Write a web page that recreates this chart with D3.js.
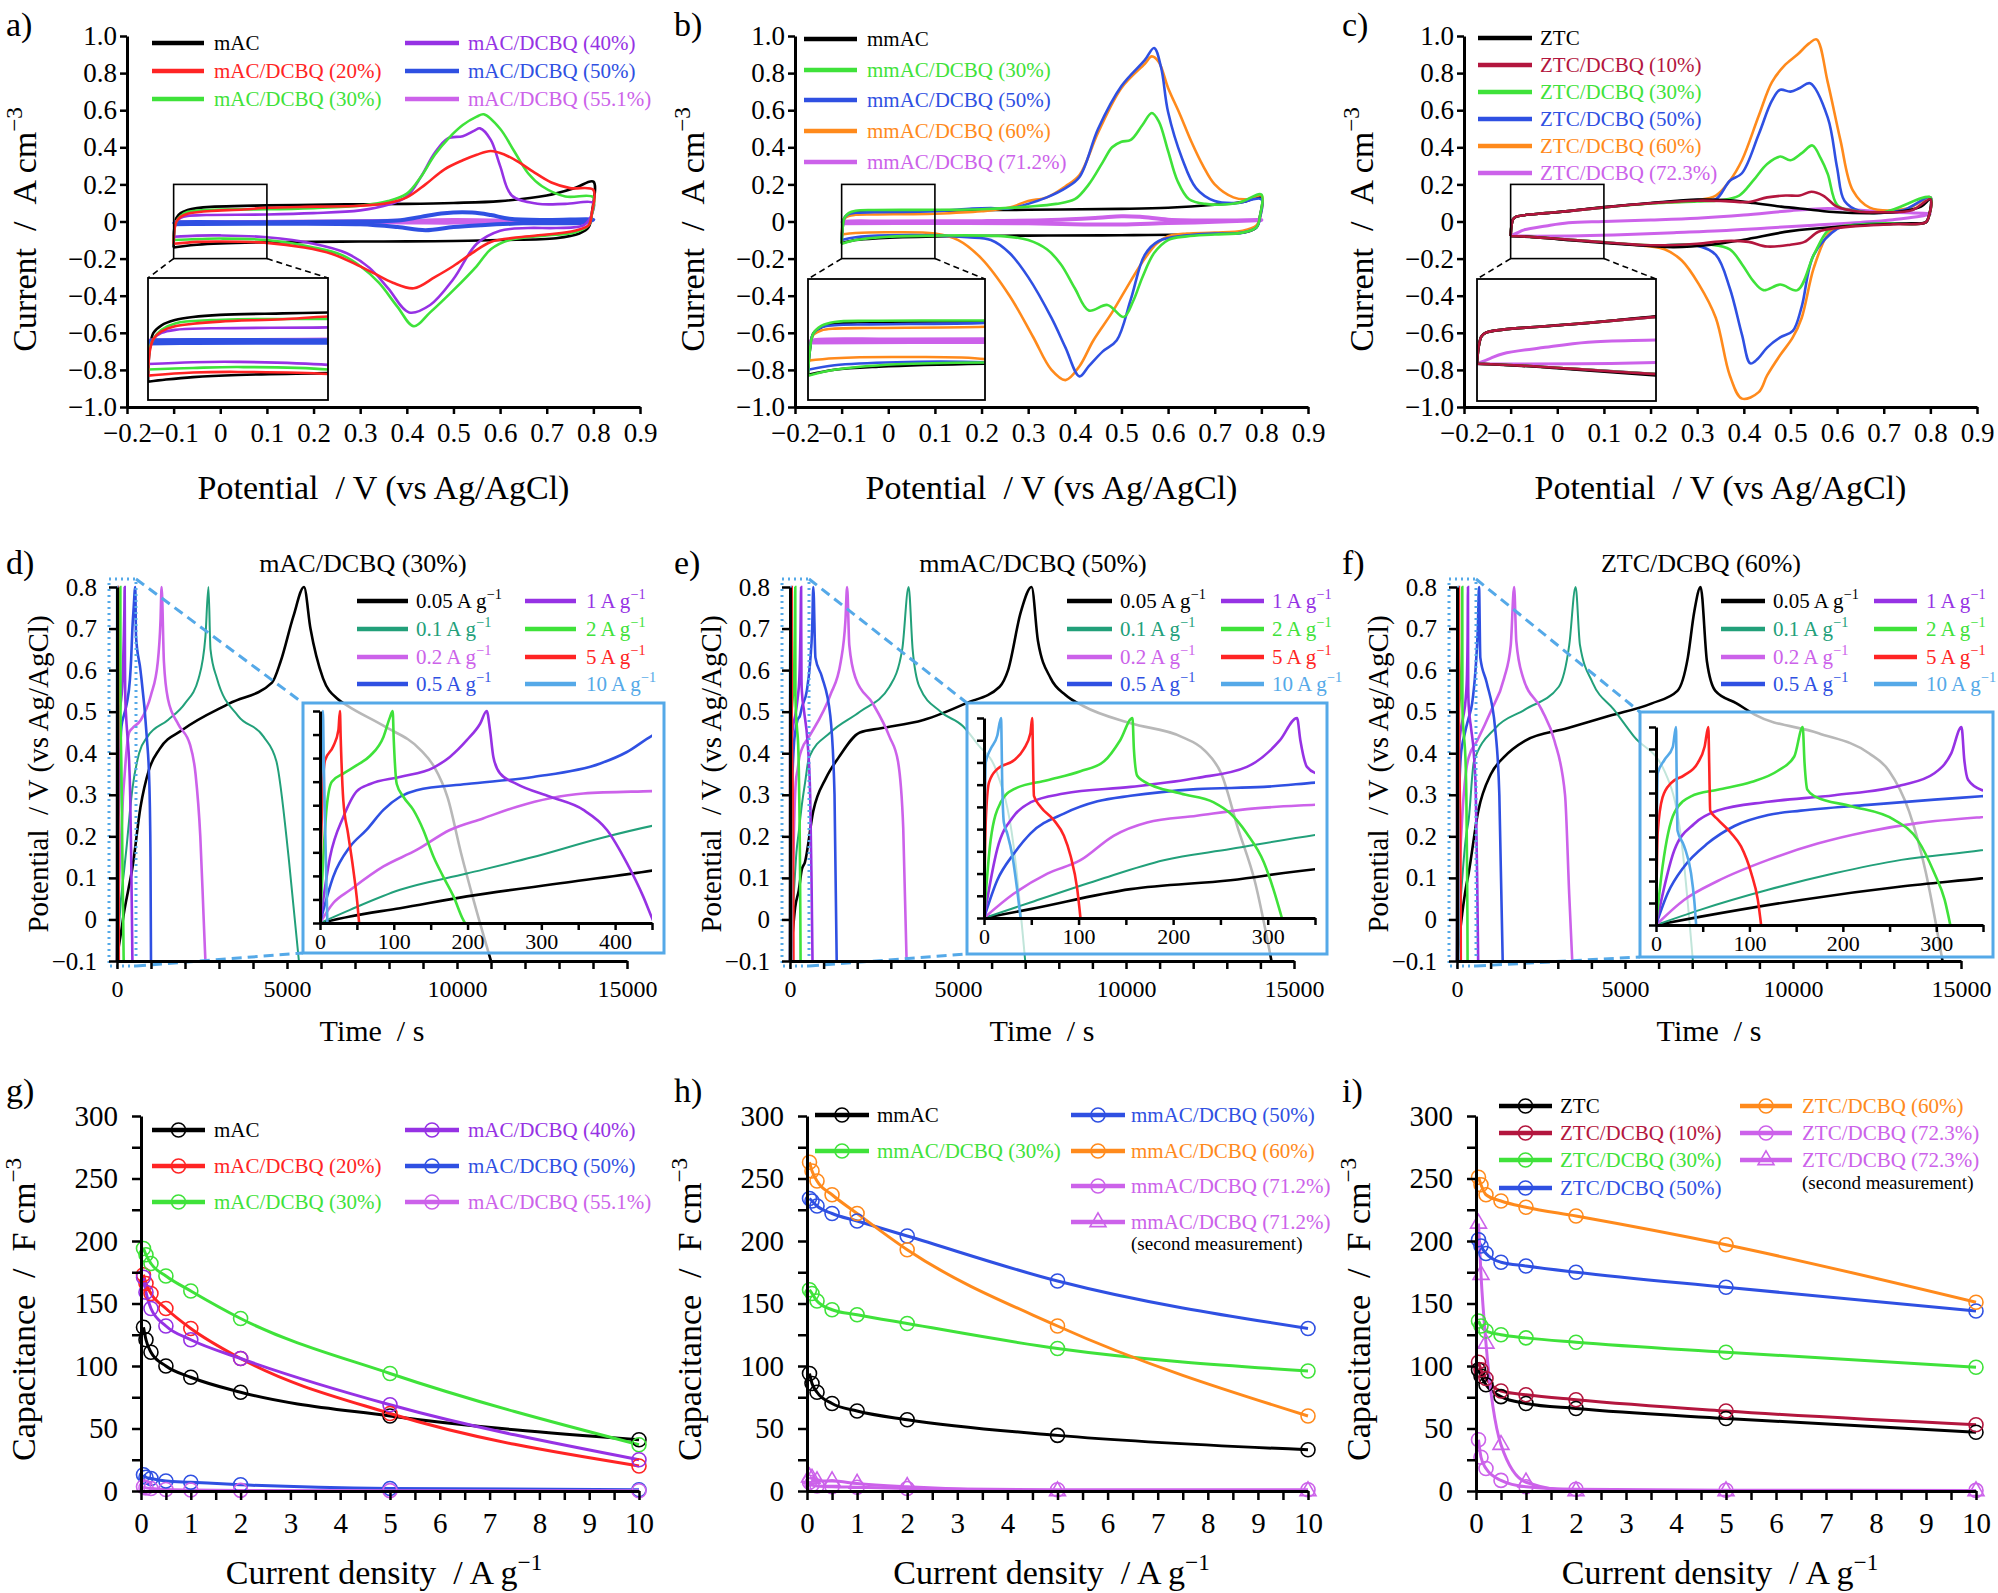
<!DOCTYPE html>
<html>
<head>
<meta charset="utf-8">
<script src="https://cdn.jsdelivr.net/npm/d3@7"></script>
<style>
  body { margin: 0; background: #fff; }
  svg { display: block; }
</style>
</head>
<body>
<svg id="fig" width="1998" height="1593"></svg>
<script>
// ---------- tick labels ----------
var cvXTicks = [-0.2, -0.1, 0, 0.1, 0.2, 0.3, 0.4, 0.5, 0.6, 0.7, 0.8, 0.9];
var cvYTicks = [-1, -0.8, -0.6, -0.4, -0.2, 0, 0.2, 0.4, 0.6, 0.8, 1];
var gcdYTicks = [-0.1, 0, 0.1, 0.2, 0.3, 0.4, 0.5, 0.6, 0.7, 0.8];
var gcdXLabels = [0, 5000, 10000, 15000];
var capYLabels = [0, 50, 100, 150, 200, 250, 300];
var capXLabels = [0, 1, 2, 3, 4, 5, 6, 7, 8, 9, 10];

// ---------- a) CV, mAC series  [V, I] ----------
var a_mAC = [[-0.1,-0.14],[-0.098,-0.03],[-0.094,0.02],[-0.085,0.045],[-0.07,0.062],[-0.05,0.072],[-0.02,0.079],[0.05,0.084],[0.1,0.087],[0.2,0.09],[0.3,0.093],[0.4,0.095],[0.5,0.1],[0.6,0.11],[0.7,0.14],[0.76,0.18],[0.8,0.215],
  [0.797,0.05],[0.79,-0.03],[0.77,-0.065],[0.72,-0.09],[0.6,-0.1],[0.5,-0.105],[0.4,-0.107],[0.3,-0.108],[0.2,-0.11],[0.1,-0.112],[0.0,-0.118],[-0.05,-0.125],[-0.08,-0.133],[-0.1,-0.14]];
var a_20 = [[-0.1,-0.12],[-0.098,-0.04],[-0.094,0.0],[-0.085,0.025],[-0.07,0.042],[-0.05,0.05],[-0.02,0.057],[0.05,0.065],[0.1,0.074],[0.2,0.08],[0.3,0.085],[0.36,0.1],[0.4,0.13],[0.44,0.2],[0.48,0.28],[0.52,0.33],[0.55,0.36],[0.58,0.38],[0.61,0.36],[0.64,0.32],[0.67,0.27],[0.71,0.21],[0.75,0.18],[0.8,0.17],
  [0.797,0.05],[0.79,-0.02],[0.76,-0.05],[0.7,-0.07],[0.64,-0.085],[0.58,-0.11],[0.54,-0.17],[0.5,-0.24],[0.46,-0.3],[0.415,-0.36],[0.37,-0.33],[0.33,-0.28],[0.29,-0.23],[0.24,-0.175],[0.18,-0.14],[0.1,-0.115],[0.0,-0.108],[-0.05,-0.11],[-0.1,-0.12]];
var a_30 = [[-0.1,-0.1],[-0.098,-0.03],[-0.094,0.0],[-0.085,0.03],[-0.069,0.052],[-0.03,0.062],[0.0,0.065],[0.1,0.066],[0.2,0.072],[0.3,0.085],[0.36,0.11],[0.4,0.15],[0.43,0.24],[0.46,0.36],[0.49,0.45],[0.52,0.52],[0.55,0.565],[0.565,0.578],[0.6,0.5],[0.63,0.38],[0.66,0.26],[0.69,0.19],[0.74,0.135],[0.8,0.13],
  [0.797,0.04],[0.79,-0.02],[0.76,-0.06],[0.7,-0.075],[0.62,-0.1],[0.58,-0.15],[0.55,-0.24],[0.5,-0.37],[0.45,-0.49],[0.415,-0.565],[0.38,-0.46],[0.34,-0.33],[0.3,-0.24],[0.26,-0.18],[0.2,-0.14],[0.1,-0.1],[0.0,-0.092],[-0.05,-0.095],[-0.1,-0.1]];
var a_40 = [[-0.1,-0.082],[-0.098,-0.03],[-0.094,0.0],[-0.085,0.02],[-0.07,0.03],[-0.03,0.035],[0.1,0.038],[0.2,0.045],[0.3,0.06],[0.36,0.09],[0.4,0.135],[0.43,0.24],[0.46,0.37],[0.488,0.448],[0.52,0.46],[0.545,0.49],[0.557,0.502],[0.58,0.44],[0.6,0.3],[0.625,0.14],[0.68,0.096],[0.74,0.095],[0.8,0.1],
  [0.797,0.04],[0.78,-0.02],[0.72,-0.035],[0.66,-0.035],[0.6,-0.05],[0.55,-0.12],[0.5,-0.31],[0.45,-0.45],[0.405,-0.49],[0.36,-0.36],[0.32,-0.25],[0.27,-0.17],[0.2,-0.12],[0.1,-0.085],[0.0,-0.075],[-0.05,-0.076],[-0.1,-0.082]];
var a_50 = [[-0.1,-0.015],[-0.097,-0.006],[-0.09,-0.004],[0.1,-0.004],[0.3,0.0],[0.38,0.005],[0.43,0.025],[0.48,0.045],[0.54,0.048],[0.58,0.035],[0.62,0.015],[0.7,0.008],[0.8,0.01],
  [0.78,-0.005],[0.65,-0.01],[0.56,-0.02],[0.5,-0.03],[0.44,-0.047],[0.38,-0.03],[0.3,-0.015],[0.1,-0.012],[-0.05,-0.013],[-0.1,-0.015]];
var a_55 = [[-0.1,-0.005],[0.2,0.0],[0.4,0.004],[0.5,0.008],[0.6,0.006],[0.8,0.008],
  [0.6,-0.002],[0.5,-0.006],[0.4,-0.005],[0.2,-0.003],[-0.1,-0.005]];

// ---------- b) CV, mmAC series ----------
var b_mmAC = [[-0.1,-0.117],[-0.098,-0.04],[-0.094,0.02],[-0.085,0.04],[-0.077,0.049],[-0.044,0.057],[0.1,0.06],[0.3,0.063],[0.5,0.068],[0.6,0.074],[0.7,0.09],[0.76,0.105],[0.8,0.13],
  [0.797,0.03],[0.79,-0.03],[0.77,-0.055],[0.7,-0.066],[0.5,-0.074],[0.3,-0.076],[0.1,-0.08],[-0.02,-0.09],[-0.07,-0.1],[-0.1,-0.117]];
var b_30 = [[-0.1,-0.12],[-0.098,-0.04],[-0.094,0.02],[-0.085,0.045],[-0.07,0.058],[-0.03,0.062],[0.1,0.063],[0.2,0.066],[0.3,0.08],[0.36,0.095],[0.4,0.12],[0.43,0.2],[0.46,0.32],[0.48,0.4],[0.5,0.43],[0.52,0.44],[0.545,0.52],[0.565,0.585],[0.58,0.54],[0.6,0.38],[0.62,0.22],[0.645,0.12],[0.68,0.095],[0.75,0.1],[0.8,0.145],
  [0.797,0.03],[0.79,-0.03],[0.76,-0.06],[0.7,-0.07],[0.64,-0.08],[0.6,-0.1],[0.57,-0.17],[0.545,-0.3],[0.525,-0.43],[0.505,-0.515],[0.47,-0.45],[0.43,-0.48],[0.4,-0.36],[0.37,-0.23],[0.34,-0.15],[0.3,-0.1],[0.25,-0.08],[0.1,-0.076],[0.0,-0.082],[-0.07,-0.1],[-0.1,-0.12]];
var b_50 = [[-0.1,-0.1],[-0.098,-0.03],[-0.094,0.02],[-0.085,0.04],[-0.07,0.047],[-0.03,0.05],[0.1,0.055],[0.18,0.07],[0.22,0.072],[0.26,0.07],[0.3,0.095],[0.34,0.13],[0.38,0.18],[0.41,0.24],[0.45,0.5],[0.5,0.73],[0.55,0.87],[0.57,0.935],[0.585,0.83],[0.6,0.59],[0.63,0.34],[0.66,0.18],[0.7,0.11],[0.75,0.1],[0.8,0.12],
  [0.797,0.02],[0.79,-0.03],[0.76,-0.06],[0.7,-0.065],[0.64,-0.075],[0.58,-0.105],[0.55,-0.18],[0.52,-0.42],[0.49,-0.64],[0.46,-0.7],[0.43,-0.78],[0.41,-0.835],[0.38,-0.68],[0.35,-0.52],[0.3,-0.3],[0.26,-0.17],[0.22,-0.1],[0.17,-0.085],[0.1,-0.075],[0.0,-0.075],[-0.07,-0.085],[-0.1,-0.1]];
var b_60 = [[-0.1,-0.07],[-0.098,-0.02],[-0.094,0.015],[-0.085,0.03],[-0.07,0.036],[-0.03,0.038],[0.1,0.042],[0.2,0.055],[0.26,0.075],[0.3,0.11],[0.34,0.13],[0.38,0.19],[0.41,0.25],[0.45,0.48],[0.5,0.72],[0.55,0.85],[0.565,0.89],[0.58,0.86],[0.6,0.72],[0.625,0.58],[0.65,0.43],[0.675,0.3],[0.7,0.2],[0.74,0.13],[0.77,0.12],[0.8,0.14],
  [0.797,0.02],[0.79,-0.02],[0.76,-0.05],[0.7,-0.06],[0.64,-0.065],[0.6,-0.08],[0.575,-0.12],[0.55,-0.2],[0.52,-0.32],[0.48,-0.49],[0.44,-0.64],[0.41,-0.78],[0.38,-0.855],[0.35,-0.8],[0.31,-0.62],[0.26,-0.4],[0.2,-0.2],[0.15,-0.1],[0.1,-0.065],[0.0,-0.058],[-0.07,-0.062],[-0.1,-0.07]];
var b_71 = [[-0.1,-0.01],[-0.095,-0.003],[0.0,0.0],[0.2,0.002],[0.35,0.008],[0.45,0.02],[0.5,0.028],[0.54,0.025],[0.6,0.01],[0.7,0.005],[0.8,0.008],
  [0.7,-0.002],[0.6,-0.008],[0.5,-0.016],[0.42,-0.016],[0.3,-0.01],[0.1,-0.008],[-0.1,-0.01]];

// ---------- c) CV, ZTC series ----------
var c_ZTC = [[-0.1,-0.078],[-0.098,-0.02],[-0.095,0.012],[-0.09,0.024],[-0.071,0.034],[-0.024,0.045],[0.024,0.056],[0.1,0.078],[0.2,0.1],[0.3,0.118],[0.36,0.115],[0.42,0.1],[0.48,0.08],[0.54,0.065],[0.6,0.05],[0.68,0.045],[0.74,0.055],[0.78,0.08],[0.8,0.12],
  [0.797,0.03],[0.79,-0.005],[0.76,-0.01],[0.7,-0.015],[0.6,-0.028],[0.5,-0.052],[0.4,-0.098],[0.33,-0.125],[0.25,-0.138],[0.2,-0.132],[0.1,-0.116],[0.0,-0.095],[-0.05,-0.085],[-0.1,-0.078]];
var c_10 = [[-0.1,-0.078],[-0.098,-0.02],[-0.095,0.012],[-0.09,0.024],[-0.071,0.034],[-0.024,0.045],[0.024,0.056],[0.1,0.076],[0.2,0.098],[0.3,0.112],[0.36,0.11],[0.41,0.105],[0.45,0.13],[0.49,0.14],[0.52,0.14],[0.545,0.16],[0.57,0.14],[0.6,0.08],[0.64,0.055],[0.7,0.05],[0.76,0.06],[0.8,0.12],
  [0.797,0.03],[0.79,-0.005],[0.72,-0.015],[0.64,-0.025],[0.6,-0.035],[0.56,-0.055],[0.53,-0.11],[0.5,-0.125],[0.45,-0.135],[0.41,-0.11],[0.36,-0.105],[0.3,-0.12],[0.2,-0.128],[0.1,-0.112],[0.0,-0.093],[-0.05,-0.084],[-0.1,-0.078]];
var c_30 = [[-0.1,-0.078],[-0.098,-0.02],[-0.095,0.012],[-0.09,0.024],[-0.071,0.034],[-0.024,0.045],[0.024,0.056],[0.1,0.076],[0.2,0.097],[0.3,0.108],[0.35,0.115],[0.39,0.14],[0.42,0.22],[0.45,0.31],[0.478,0.35],[0.5,0.33],[0.525,0.37],[0.547,0.41],[0.565,0.34],[0.58,0.256],[0.6,0.09],[0.63,0.06],[0.7,0.05],[0.8,0.13],
  [0.797,0.03],[0.79,-0.005],[0.7,-0.01],[0.63,-0.02],[0.6,-0.03],[0.58,-0.05],[0.55,-0.18],[0.515,-0.37],[0.478,-0.34],[0.442,-0.37],[0.42,-0.32],[0.396,-0.23],[0.37,-0.15],[0.33,-0.125],[0.2,-0.128],[0.1,-0.112],[0.0,-0.093],[-0.05,-0.084],[-0.1,-0.078]];
var c_50 = [[-0.1,-0.078],[-0.098,-0.02],[-0.095,0.012],[-0.09,0.024],[-0.071,0.034],[-0.024,0.045],[0.024,0.056],[0.1,0.076],[0.2,0.098],[0.3,0.115],[0.34,0.12],[0.37,0.22],[0.396,0.26],[0.432,0.47],[0.46,0.65],[0.478,0.71],[0.5,0.7],[0.52,0.72],[0.542,0.745],[0.58,0.56],[0.6,0.29],[0.616,0.11],[0.65,0.055],[0.74,0.06],[0.8,0.13],
  [0.797,0.03],[0.79,-0.005],[0.7,-0.01],[0.63,-0.02],[0.6,-0.04],[0.55,-0.18],[0.524,-0.46],[0.505,-0.59],[0.478,-0.625],[0.45,-0.68],[0.43,-0.74],[0.414,-0.765],[0.396,-0.61],[0.37,-0.36],[0.34,-0.18],[0.3,-0.13],[0.2,-0.13],[0.1,-0.112],[0.0,-0.093],[-0.05,-0.084],[-0.1,-0.078]];
var c_60 = [[-0.1,-0.078],[-0.098,-0.02],[-0.095,0.012],[-0.09,0.024],[-0.071,0.034],[-0.024,0.045],[0.024,0.056],[0.1,0.076],[0.2,0.098],[0.3,0.115],[0.34,0.14],[0.37,0.22],[0.396,0.33],[0.432,0.57],[0.46,0.75],[0.487,0.84],[0.515,0.9],[0.54,0.96],[0.556,0.982],[0.58,0.75],[0.607,0.44],[0.634,0.166],[0.67,0.075],[0.75,0.07],[0.8,0.13],
  [0.797,0.03],[0.79,-0.005],[0.7,-0.01],[0.63,-0.02],[0.6,-0.035],[0.58,-0.07],[0.55,-0.25],[0.524,-0.52],[0.505,-0.625],[0.478,-0.72],[0.45,-0.83],[0.432,-0.92],[0.396,-0.955],[0.37,-0.83],[0.34,-0.52],[0.304,-0.34],[0.267,-0.21],[0.23,-0.15],[0.2,-0.135],[0.1,-0.112],[0.0,-0.093],[-0.05,-0.084],[-0.1,-0.078]];
var c_72 = [[-0.1,-0.078],[-0.085,-0.06],[-0.071,-0.045],[-0.024,-0.024],[0.024,-0.007],[0.1,0.0],[0.2,0.008],[0.3,0.018],[0.4,0.035],[0.5,0.058],[0.58,0.07],[0.65,0.06],[0.72,0.05],[0.8,0.04],
  [0.72,0.01],[0.65,-0.005],[0.55,-0.02],[0.45,-0.035],[0.35,-0.05],[0.25,-0.06],[0.15,-0.07],[0.05,-0.077],[-0.05,-0.079],[-0.1,-0.078]];

// ---------- d) GCD mAC/DCBQ (30%)  [t (s), V] ----------
var d_005 = [[0,-0.1],[40.7,-0.072],[108.5,-0.037],[199,0.013],[334,0.072],[451,0.123],[690,0.27],[940,0.36],[1250,0.41],[1940,0.457],[3310,0.52],[4560,0.57],[4810,0.62],[5190,0.73],[5500,0.8],[5690,0.7],[6060,0.58],[6500,0.53],[6785,0.514],[7860,0.465],[8940,0.407],[9330,0.367],[9725,0.293],[10118,0.16],[10510,0.04],[11000,-0.1]];
var d_01 = [[0,-0.1],[40.7,-0.044],[108.5,0.041],[199,0.11],[289,0.18],[380,0.26],[451,0.313],[650,0.4],[900,0.44],[1500,0.48],[2000,0.52],[2400,0.58],[2600,0.68],[2690,0.8],[2750,0.65],[2940,0.58],[3560,0.49],[4310,0.44],[4690,0.38],[5060,0.14],[5350,-0.1]];
var d_02 = [[0,-0.1],[18,-0.015],[40.7,0.04],[86,0.14],[131,0.21],[176,0.295],[221,0.344],[267,0.394],[312,0.43],[357,0.45],[451,0.46],[700,0.48],[1000,0.54],[1200,0.62],[1280,0.72],[1312,0.8],[1380,0.62],[1500,0.53],[1800,0.47],[2150,0.42],[2310,0.35],[2450,0.2],[2550,0.0],[2600,-0.1]];
var d_05 = [[0,-0.1],[18,0.097],[40.7,0.224],[63,0.295],[86,0.38],[108.5,0.436],[131,0.464],[199,0.49],[289,0.52],[380,0.577],[416,0.626],[451,0.697],[490,0.75],[537,0.8],[560,0.68],[690,0.6],[875,0.44],[950,0.33],[985,0.15],[1000,-0.1]];
var d_1 = [[0,-0.1],[13.6,0.18],[31.6,0.35],[50,0.46],[68,0.49],[108,0.52],[154,0.56],[176,0.605],[199,0.676],[217,0.746],[226,0.8],[230.5,0.718],[235,0.605],[244,0.535],[267,0.49],[312,0.436],[357,0.38],[389,0.295],[416,0.154],[438,0.013],[451,-0.086],[453,-0.1]];
var d_2 = [[0,-0.1],[4.5,0.18],[9,0.39],[16,0.5],[32,0.535],[50,0.57],[68,0.61],[86,0.69],[95,0.775],[98.5,0.8],[100,0.676],[104,0.49],[113,0.436],[126.5,0.38],[140,0.295],[154,0.18],[167,0.097],[181,0.013],[194,-0.086],[196.6,-0.1]];
var d_5 = [[0,-0.1],[1,0.15],[3.6,0.46],[6.8,0.59],[18,0.65],[25,0.72],[27,0.8],[28,0.69],[31.6,0.42],[38,0.28],[45,0.13],[50.6,-0.015],[53,-0.1]];
var d_10 = [[0,-0.1],[1,0.4],[2.5,0.65],[4,0.8],[5,0.6],[7,0.3],[10,-0.1]];

// ---------- e) GCD mmAC/DCBQ (50%) ----------
var e_005 = [[0,-0.1],[49,-0.06],[155,0.03],[260.6,0.07],[352,0.12],[441,0.137],[690,0.26],[1070,0.34],[1450,0.39],[2080,0.45],[2710,0.46],[3970,0.48],[5230,0.52],[6240,0.56],[6490,0.6],[6870,0.74],[7190,0.8],[7380,0.67],[7760,0.58],[8200,0.54],[8740,0.513],[10140,0.472],[11640,0.44],[12335,0.407],[12840,0.35],[13330,0.22],[13840,0.09],[14330,-0.1]];
var e_01 = [[0,-0.1],[49,-0.03],[120,0.07],[190,0.16],[260.6,0.21],[352,0.275],[450,0.33],[567,0.39],[1200,0.45],[2080,0.5],[2960,0.56],[3340,0.65],[3530,0.8],[3650,0.65],[3850,0.56],[4480,0.5],[5150,0.465],[5600,0.42],[6140,0.358],[6650,0.18],[7000,-0.1]];
var e_02 = [[0,-0.1],[31.7,0.01],[67,0.1],[102,0.16],[137,0.27],[172.5,0.33],[225,0.36],[278,0.39],[352,0.41],[570,0.44],[1200,0.54],[1510,0.62],[1650,0.72],[1700,0.8],[1765,0.66],[1955,0.58],[2460,0.52],[2960,0.44],[3215,0.38],[3370,0.22],[3470,-0.1]];
var e_05 = [[0,-0.1],[14,0.07],[31.7,0.19],[49,0.28],[84.5,0.37],[120,0.425],[155,0.45],[225,0.48],[296,0.49],[352,0.51],[500,0.55],[600,0.62],[660,0.7],[694,0.8],[757,0.63],[946,0.585],[1200,0.49],[1325,0.3],[1390,-0.1]];
var e_1 = [[0,-0.1],[14,0.21],[31.7,0.36],[49,0.42],[84.5,0.46],[155,0.49],[225,0.53],[278,0.58],[313,0.7],[331,0.8],[334.5,0.7],[341.5,0.58],[352,0.55],[420,0.5],[520,0.43],[600,0.3],[640,0.1],[670,-0.1]];
var e_2 = [[0,-0.1],[7,0.25],[17.6,0.42],[31.7,0.48],[67,0.52],[102,0.56],[127,0.605],[144,0.7],[157,0.8],[158.5,0.66],[162,0.54],[169,0.515],[208,0.46],[243,0.42],[260.6,0.37],[278,0.28],[296,0.15],[306,0.03],[315,-0.1]];
var e_5 = [[0,-0.1],[1.8,0.33],[5.3,0.51],[14,0.57],[31.7,0.61],[42,0.66],[49,0.73],[51,0.8],[51.8,0.63],[52.8,0.45],[60,0.4],[74,0.34],[84.5,0.27],[91.5,0.18],[98.6,0.03],[102,-0.1]];
var e_10 = [[0,-0.1],[1.8,0.6],[7,0.66],[14,0.72],[18,0.8],[19.4,0.48],[21,0.33],[24.6,0.28],[30,0.18],[35,0.03],[38.7,-0.1]];

// ---------- f) GCD ZTC/DCBQ (60%) ----------
var f_005 = [[0,-0.1],[48,-0.062],[155,0.014],[262.5,0.075],[348,0.112],[630,0.26],[1010,0.35],[1390,0.39],[2020,0.43],[3280,0.46],[4540,0.49],[5800,0.52],[6560,0.55],[6870,0.63],[7060,0.74],[7250,0.8],[7440,0.62],[7690,0.55],[8320,0.52],[8860,0.493],[10760,0.448],[12260,0.4],[12855,0.358],[13455,0.26],[13950,0.114],[14250,-0.009],[14450,-0.1]];
var f_01 = [[0,-0.1],[48,-0.03],[120,0.06],[191,0.135],[262.5,0.196],[348,0.24],[504,0.38],[1135,0.46],[2020,0.505],[3030,0.56],[3340,0.66],[3530,0.8],[3660,0.66],[4035,0.57],[4670,0.505],[5270,0.44],[6170,0.358],[6670,0.196],[7020,-0.1]];
var f_02 = [[0,-0.1],[30,0.014],[66,0.1],[120,0.196],[173,0.27],[227,0.325],[280,0.363],[348,0.39],[600,0.43],[1000,0.5],[1400,0.58],[1600,0.66],[1700,0.8],[1765,0.67],[1955,0.585],[2520,0.505],[2900,0.43],[3215,0.3],[3340,0.06],[3430,-0.1]];
var f_05 = [[0,-0.1],[12.5,0.044],[30,0.165],[55,0.27],[84,0.35],[120,0.4],[155,0.42],[227,0.446],[298,0.47],[348,0.485],[450,0.52],[550,0.6],[620,0.7],[656,0.8],[694,0.63],[883,0.57],[1135,0.46],[1260,0.3],[1360,-0.1]];
var f_1 = [[0,-0.1],[19.6,0.24],[41,0.36],[66,0.42],[120,0.46],[191,0.49],[262.5,0.535],[298,0.59],[316,0.68],[327,0.8],[330,0.65],[334,0.56],[348,0.515],[420,0.46],[500,0.4],[560,0.3],[600,0.1],[630,-0.1]];
var f_2 = [[0,-0.1],[7,0.165],[19.6,0.41],[37.5,0.485],[66,0.515],[102,0.55],[130,0.6],[148,0.666],[157,0.8],[159,0.636],[162,0.515],[170,0.485],[209,0.44],[255,0.378],[280,0.287],[298,0.135],[309,0.014],[315,-0.1]];
var f_5 = [[0,-0.1],[1.8,0.32],[7,0.48],[16,0.545],[30,0.58],[44.6,0.636],[52,0.71],[56,0.8],[57,0.62],[58,0.42],[66,0.38],[80,0.32],[91,0.257],[102,0.135],[109,0.014],[112.5,-0.1]];
var f_10 = [[0,-0.1],[1.8,0.59],[9,0.65],[18,0.71],[21.4,0.8],[22,0.62],[23,0.33],[30,0.26],[37.5,0.135],[41,0.01],[43,-0.1]];

// ---------- g-i) capacitance vs current density ----------
var currentDensity = [0.05, 0.1, 0.2, 0.5, 1, 2, 5, 10];
var g_mAC = [131, 121, 111, 100, 91, 79, 60, 41];
var g_20  = [173, 166, 158, 146, 130, 106, 62, 20];
var g_30  = [194, 189, 182, 172, 160, 138, 94, 37];
var g_40  = [171, 159, 146, 132, 121, 106, 69, 25];
var g_50  = [13, 11, 10, 8, 7, 5, 2, 1];
var g_55  = [3.4, 2.5, 2, 1.2, 0.8, 0.5, 0.3, 0.2];
var h_mmAC = [94, 86, 79, 70, 64, 57, 44.5, 33];
var h_30  = [161, 158, 152, 145, 141, 134, 114, 96];
var h_50  = [234, 232, 228, 222, 216, 204, 168, 130];
var h_60  = [263, 256, 248, 237, 222, 193, 132, 60];
var h_71  = [7, 5, 4, 3.4, 3, 2, 1, 1];
var h_71b = [11, 10, 8, 8, 6, 3.4, 0, 0];
var i_ZTC = [97, 92, 85, 75.5, 70, 66, 58, 47];
var i_10  = [103, 97, 90, 80, 77, 73, 64, 53];
var i_30  = [136, 132, 128, 125, 122.5, 119, 111, 99];
var i_50  = [201, 196, 190, 183, 180, 175, 163, 144];
var i_60  = [251, 245, 237, 232, 227, 220, 197, 151];
var i_72  = [41, 27, 18, 8.5, 3.4, 1.4, 0.6, 0.5];
var i_72b = [214, 173, 118, 37, 7, 0, 0, 0];

var rateLabels = ['0.05', '0.1', '0.2', '0.5', '1', '2', '5', '10'];

// ---------- colours ----------
var BLACK = '#000000', RED = '#ff2424', LIME = '#3fe23a', VIOLET = '#9632e4', BLUE = '#2f50e2',
    ORCHID = '#cc62ea', ORANGE = '#ff8a1c', CRIMSON = '#b3163e', TEAL = '#22a07a', SKY = '#55a9e8';
var rateColors = [BLACK, TEAL, ORCHID, BLUE, VIOLET, LIME, RED, SKY];

var FONT = '"Liberation Serif","Times New Roman",serif';
var svg = d3.select('#fig');

function txt(g, x, y, main, sup, size, color, anchor) {
  var t = g.append('text').attr('x', x).attr('y', y)
    .attr('font-size', size).attr('font-family', FONT)
    .attr('fill', color || '#000').attr('text-anchor', anchor || 'start');
  t.append('tspan').text(main);
  if (sup) t.append('tspan').attr('font-size', size * 0.68).attr('dy', -size * 0.42).text(sup);
  return t;
}

function vtitle(g, x, y, main, sup, size) {
  var t = g.append('text').attr('transform', 'translate(' + x + ',' + y + ') rotate(-90)')
    .attr('font-size', size).attr('font-family', FONT).attr('text-anchor', 'middle').attr('fill', '#000');
  t.append('tspan').text(main);
  if (sup) t.append('tspan').attr('font-size', size * 0.68).attr('dy', -size * 0.42).text(sup);
}

function styleAxis(ax, size) {
  ax.attr('font-family', FONT).attr('font-size', size);
  ax.select('.domain').attr('stroke-width', 3).attr('stroke', '#000');
  ax.selectAll('.tick line').attr('stroke-width', 2.5).attr('stroke', '#000');
  ax.selectAll('.tick text').attr('fill', '#000');
}

function legendItem(g, it) {
  g.append('line').attr('x1', it.x1).attr('x2', it.x2).attr('y1', it.y).attr('y2', it.y)
    .attr('stroke', it.color).attr('stroke-width', 4.5);
  var cx = (it.x1 + it.x2) / 2;
  if (it.marker === 'circle') {
    g.append('circle').attr('cx', cx).attr('cy', it.y).attr('r', 7)
      .attr('fill', 'none').attr('stroke', it.color).attr('stroke-width', 1.6);
  } else if (it.marker === 'tri') {
    g.append('path').attr('d', d3.symbol(d3.symbolTriangle, 110)())
      .attr('transform', 'translate(' + cx + ',' + it.y + ')')
      .attr('fill', 'none').attr('stroke', it.color).attr('stroke-width', 1.6);
  }
  txt(g, it.tx, it.y + 7, it.label, it.sup, 21, it.color);
}

function fmt1(d) { return d === 0 ? '0' : d3.format('.1f')(d); }

// ================= row 1 : cyclic voltammetry =================
function cvPanel(p) {
  var g = svg.append('g');
  var x = d3.scaleLinear().domain([-0.2, 0.9]).range([p.x0, p.x1]);
  var y = d3.scaleLinear().domain([-1, 1]).range([p.yb, p.yt]);
  var line = d3.line().x(function (d) { return x(d[0]); }).y(function (d) { return y(d[1]); })
    .curve(d3.curveCatmullRom.alpha(0.5));
  p.series.forEach(function (s) {
    g.append('path').attr('d', line(s.data)).attr('fill', 'none')
      .attr('stroke', s.color).attr('stroke-width', s.w || 2.6);
  });

  // zoom box + inset
  g.append('rect').attr('x', x(-0.1)).attr('y', y(0.2))
    .attr('width', x(0.1) - x(-0.1)).attr('height', y(-0.2) - y(0.2))
    .attr('fill', 'none').attr('stroke', '#000').attr('stroke-width', 1.6);
  var b = p.inset;
  g.append('line').attr('x1', x(-0.1)).attr('y1', y(-0.2)).attr('x2', b.x0).attr('y2', b.y0)
    .attr('stroke', '#000').attr('stroke-width', 1.6).attr('stroke-dasharray', '6,4');
  g.append('line').attr('x1', x(0.1)).attr('y1', y(-0.2)).attr('x2', b.x1).attr('y2', b.y0)
    .attr('stroke', '#000').attr('stroke-width', 1.6).attr('stroke-dasharray', '6,4');
  g.append('rect').attr('x', b.x0).attr('y', b.y0).attr('width', b.x1 - b.x0).attr('height', b.y1 - b.y0)
    .attr('fill', '#fff');
  var ix = d3.scaleLinear().domain([-0.1, 0.1]).range([b.x0, b.x1]);
  var iy = d3.scaleLinear().domain([-0.2, 0.2]).range([b.y1, b.y0]);
  var iline = d3.line().x(function (d) { return ix(d[0]); }).y(function (d) { return iy(d[1]); })
    .curve(d3.curveCatmullRom.alpha(0.5));
  g.append('clipPath').attr('id', p.id + 'clip').append('rect')
    .attr('x', b.x0).attr('y', b.y0).attr('width', b.x1 - b.x0).attr('height', b.y1 - b.y0);
  var ig = g.append('g').attr('clip-path', 'url(#' + p.id + 'clip)');
  p.series.forEach(function (s) {
    ig.append('path').attr('d', iline(s.data)).attr('fill', 'none')
      .attr('stroke', s.color).attr('stroke-width', s.w || 2.6);
  });
  g.append('rect').attr('x', b.x0).attr('y', b.y0).attr('width', b.x1 - b.x0).attr('height', b.y1 - b.y0)
    .attr('fill', 'none').attr('stroke', '#000').attr('stroke-width', 1.8);

  // axes
  var ay = g.append('g').attr('transform', 'translate(' + p.x0 + ',0)')
    .call(d3.axisLeft(y).tickValues(cvYTicks).tickFormat(fmt1).tickSize(7).tickSizeOuter(0).tickPadding(3));
  styleAxis(ay, 27);
  var ax = g.append('g').attr('transform', 'translate(0,' + p.yb + ')')
    .call(d3.axisBottom(x).tickValues(cvXTicks).tickFormat(fmt1).tickSize(7).tickSizeOuter(0).tickPadding(9));
  styleAxis(ax, 27);

  txt(g, (p.x0 + p.x1) / 2, 499, 'Potential \u00a0/ V (vs Ag/AgCl)', null, 34, '#000', 'middle');
  vtitle(g, p.x0 - 91, (p.yt + p.yb) / 2 + 8, 'Current \u00a0/ \u00a0A cm', '\u22123', 34);
  txt(g, p.lx, 36, p.letter, null, 34, '#000');
  p.legend.forEach(function (it) { legendItem(g, it); });
}

cvPanel({
  id: 'a', letter: 'a)', lx: 6, x0: 127, x1: 640, yt: 36, yb: 407,
  inset: { x0: 148, x1: 328, y0: 278, y1: 400 },
  series: [
    { data: a_mAC, color: BLACK }, { data: a_55, color: ORCHID, w: 4 }, { data: a_50, color: BLUE, w: 4 },
    { data: a_40, color: VIOLET }, { data: a_30, color: LIME }, { data: a_20, color: RED }
  ],
  legend: [
    { x1: 152, x2: 204, tx: 214, y: 43, color: BLACK, label: 'mAC' },
    { x1: 152, x2: 204, tx: 214, y: 71, color: RED, label: 'mAC/DCBQ (20%)' },
    { x1: 152, x2: 204, tx: 214, y: 99, color: LIME, label: 'mAC/DCBQ (30%)' },
    { x1: 405, x2: 459, tx: 468, y: 43, color: VIOLET, label: 'mAC/DCBQ (40%)' },
    { x1: 405, x2: 459, tx: 468, y: 71, color: BLUE, label: 'mAC/DCBQ (50%)' },
    { x1: 405, x2: 459, tx: 468, y: 99, color: ORCHID, label: 'mAC/DCBQ (55.1%)' }
  ]
});

cvPanel({
  id: 'b', letter: 'b)', lx: 674, x0: 795, x1: 1308, yt: 36, yb: 407,
  inset: { x0: 808, x1: 985, y0: 279, y1: 400 },
  series: [
    { data: b_mmAC, color: BLACK }, { data: b_71, color: ORCHID, w: 4 }, { data: b_60, color: ORANGE },
    { data: b_50, color: BLUE }, { data: b_30, color: LIME }
  ],
  legend: [
    { x1: 804, x2: 857, tx: 867, y: 39, color: BLACK, label: 'mmAC' },
    { x1: 804, x2: 857, tx: 867, y: 70, color: LIME, label: 'mmAC/DCBQ (30%)' },
    { x1: 804, x2: 857, tx: 867, y: 100, color: BLUE, label: 'mmAC/DCBQ (50%)' },
    { x1: 804, x2: 857, tx: 867, y: 131, color: ORANGE, label: 'mmAC/DCBQ (60%)' },
    { x1: 804, x2: 857, tx: 867, y: 162, color: ORCHID, label: 'mmAC/DCBQ (71.2%)' }
  ]
});

cvPanel({
  id: 'c', letter: 'c)', lx: 1342, x0: 1464, x1: 1977, yt: 36, yb: 407,
  inset: { x0: 1477, x1: 1656, y0: 279, y1: 401 },
  series: [
    { data: c_72, color: ORCHID, w: 3 }, { data: c_60, color: ORANGE }, { data: c_50, color: BLUE },
    { data: c_30, color: LIME }, { data: c_ZTC, color: BLACK }, { data: c_10, color: CRIMSON }
  ],
  legend: [
    { x1: 1478, x2: 1532, tx: 1540, y: 38, color: BLACK, label: 'ZTC' },
    { x1: 1478, x2: 1532, tx: 1540, y: 65, color: CRIMSON, label: 'ZTC/DCBQ (10%)' },
    { x1: 1478, x2: 1532, tx: 1540, y: 92, color: LIME, label: 'ZTC/DCBQ (30%)' },
    { x1: 1478, x2: 1532, tx: 1540, y: 119, color: BLUE, label: 'ZTC/DCBQ (50%)' },
    { x1: 1478, x2: 1532, tx: 1540, y: 146, color: ORANGE, label: 'ZTC/DCBQ (60%)' },
    { x1: 1478, x2: 1532, tx: 1540, y: 173, color: ORCHID, label: 'ZTC/DCBQ (72.3%)' }
  ]
});

// ================= row 2 : galvanostatic charge/discharge =================
function gcdPanel(p) {
  var g = svg.append('g');
  var x = d3.scaleLinear().domain([0, 15000]).range([p.x0, p.x1]);
  var y = d3.scaleLinear().domain([-0.1, 0.8]).range([p.yb, p.yt]);
  var line = d3.line().x(function (d) { return x(d[0]); }).y(function (d) { return y(d[1]); })
    .curve(d3.curveMonotoneX);
  p.series.forEach(function (s, k) {
    g.append('path').attr('d', line(s)).attr('fill', 'none')
      .attr('stroke', rateColors[k]).attr('stroke-width', k === 1 ? 2 : 2.6);
  });

  // dotted zoom box and connectors
  var bx0 = p.x0 - 8, bx1 = p.x0 + 19, by0 = p.yt - 8, by1 = p.yb + 5;
  g.append('rect').attr('x', bx0).attr('y', by0).attr('width', bx1 - bx0).attr('height', by1 - by0)
    .attr('fill', 'none').attr('stroke', SKY).attr('stroke-width', 3).attr('stroke-dasharray', '2,4');
  var b = p.inset;
  g.append('line').attr('x1', bx1).attr('y1', by0).attr('x2', b.x0).attr('y2', b.y0)
    .attr('stroke', SKY).attr('stroke-width', 3).attr('stroke-dasharray', '10,6');
  g.append('line').attr('x1', bx1).attr('y1', by1).attr('x2', b.x0).attr('y2', b.y1)
    .attr('stroke', SKY).attr('stroke-width', 3).attr('stroke-dasharray', '10,6');

  // main axes
  var ay = g.append('g').attr('transform', 'translate(' + p.x0 + ',0)')
    .call(d3.axisLeft(y).tickValues(gcdYTicks).tickFormat(fmt1).tickSize(8).tickSizeOuter(0).tickPadding(12));
  styleAxis(ay, 25);
  var ax = g.append('g').attr('transform', 'translate(0,' + p.yb + ')')
    .call(d3.axisBottom(x).tickValues(d3.range(0, 15001, 1000))
      .tickFormat(function (d) { return gcdXLabels.indexOf(d) >= 0 ? d : ''; })
      .tickSize(8).tickSizeOuter(0).tickPadding(11));
  styleAxis(ax, 24);

  // inset
  g.append('rect').attr('x', b.x0).attr('y', b.y0).attr('width', b.x1 - b.x0).attr('height', b.y1 - b.y0)
    .attr('fill', '#fff').attr('fill-opacity', 0.72).attr('stroke', SKY).attr('stroke-width', 3);
  var ix = d3.scaleLinear().domain([0, b.tmax]).range([b.ax0, b.ax1]);
  var iy = d3.scaleLinear().domain([-0.1, 0.8]).range([b.ay1, b.ay0]);
  var iline = d3.line().x(function (d) { return ix(d[0]); }).y(function (d) { return iy(d[1]); })
    .curve(d3.curveMonotoneX);
  g.append('clipPath').attr('id', p.id + 'clip').append('rect')
    .attr('x', b.ax0).attr('y', b.ay0 - 3).attr('width', b.ax1 - b.ax0).attr('height', b.ay1 - b.ay0 + 4);
  var ig = g.append('g').attr('clip-path', 'url(#' + p.id + 'clip)');
  p.series.forEach(function (s, k) {
    ig.append('path').attr('d', iline(s)).attr('fill', 'none')
      .attr('stroke', rateColors[k]).attr('stroke-width', k === 1 ? 2 : 2.6);
  });
  var iay = g.append('g').attr('transform', 'translate(' + b.ax0 + ',0)')
    .call(d3.axisLeft(iy).tickValues(gcdYTicks).tickFormat('').tickSize(7).tickSizeOuter(0));
  styleAxis(iay, 21);
  var iax = g.append('g').attr('transform', 'translate(0,' + b.ay1 + ')')
    .call(d3.axisBottom(ix).tickValues(d3.range(0, b.tmax + 1, 50))
      .tickFormat(function (d) { return d % 100 === 0 ? d : ''; }).tickSize(7).tickSizeOuter(0).tickPadding(3));
  styleAxis(iax, 22);

  // legend
  rateLabels.forEach(function (r, k) {
    var col = k < 4 ? 0 : 1, row = k % 4;
    legendItem(g, {
      x1: p.leg[col][0], x2: p.leg[col][1], tx: p.leg[col][2], y: [601, 629, 657, 684][row],
      color: rateColors[k], label: r + ' A g', sup: '\u22121'
    });
  });

  txt(g, p.tcx, 572, p.title, null, 26, '#000', 'middle');
  txt(g, (p.x0 + p.x1) / 2, 1041, 'Time \u00a0/ s', null, 30, '#000', 'middle');
  vtitle(g, p.x0 - 69, (p.yt + p.yb) / 2, 'Potential \u00a0/ V (vs Ag/AgCl)', null, 29);
  txt(g, p.lx, 574, p.letter, null, 34, '#000');
}

gcdPanel({
  id: 'd', letter: 'd)', lx: 6, x0: 117, x1: 627, yt: 587, yb: 961, tcx: 363, title: 'mAC/DCBQ (30%)',
  series: [d_005, d_01, d_02, d_05, d_1, d_2, d_5, d_10],
  inset: { x0: 303, x1: 664, y0: 703, y1: 953, ax0: 320, ax1: 652, ay0: 711, ay1: 923, tmax: 450 },
  leg: [[357, 408, 416], [525, 576, 586]]
});
gcdPanel({
  id: 'e', letter: 'e)', lx: 674, x0: 790, x1: 1294, yt: 587, yb: 961, tcx: 1033, title: 'mmAC/DCBQ (50%)',
  series: [e_005, e_01, e_02, e_05, e_1, e_2, e_5, e_10],
  inset: { x0: 967, x1: 1327, y0: 703, y1: 954, ax0: 984, ax1: 1315, ay0: 718, ay1: 918, tmax: 350 },
  leg: [[1067, 1112, 1120], [1221, 1264, 1272]]
});
gcdPanel({
  id: 'f', letter: 'f)', lx: 1342, x0: 1457, x1: 1961, yt: 587, yb: 961, tcx: 1701, title: 'ZTC/DCBQ (60%)',
  series: [f_005, f_01, f_02, f_05, f_1, f_2, f_5, f_10],
  inset: { x0: 1640, x1: 1993, y0: 712, y1: 957, ax0: 1656, ax1: 1983, ay0: 727, ay1: 925, tmax: 350 },
  leg: [[1721, 1765, 1773], [1874, 1917, 1926]]
});

// ================= row 3 : capacitance =================
function capPanel(p) {
  var g = svg.append('g');
  var x = d3.scaleLinear().domain([0, 10]).range([p.x0, p.x1]);
  var y = d3.scaleLinear().domain([0, 300]).range([p.yb, p.yt]);
  var line = d3.line().x(function (d, i) { return x(currentDensity[i]); }).y(function (d) { return y(d); })
    .curve(d3.curveMonotoneX);
  p.series.forEach(function (s) {
    g.append('path').attr('d', line(s.data)).attr('fill', 'none').attr('stroke', s.color).attr('stroke-width', 3);
  });
  p.series.forEach(function (s) {
    s.data.forEach(function (v, i) {
      if (s.marker === 'tri') {
        g.append('path').attr('d', d3.symbol(d3.symbolTriangle, 110)())
          .attr('transform', 'translate(' + x(currentDensity[i]) + ',' + y(v) + ')')
          .attr('fill', 'none').attr('stroke', s.color).attr('stroke-width', 1.6);
      } else {
        g.append('circle').attr('cx', x(currentDensity[i])).attr('cy', y(v)).attr('r', 7)
          .attr('fill', 'none').attr('stroke', s.color).attr('stroke-width', 1.6);
      }
    });
  });
  var ay = g.append('g').attr('transform', 'translate(' + p.x0 + ',0)')
    .call(d3.axisLeft(y).tickValues(d3.range(0, 301, 25))
      .tickFormat(function (d) { return capYLabels.indexOf(d) >= 0 ? d : ''; })
      .tickSize(9).tickSizeOuter(0).tickPadding(14));
  styleAxis(ay, 29);
  var ax = g.append('g').attr('transform', 'translate(0,' + p.yb + ')')
    .call(d3.axisBottom(x).tickValues(d3.range(0, 10.01, 0.5))
      .tickFormat(function (d) { return capXLabels.indexOf(d) >= 0 ? d : ''; })
      .tickSize(9).tickSizeOuter(0).tickPadding(12));
  styleAxis(ax, 29);

  p.legend.forEach(function (it) { legendItem(g, it); });
  if (p.note) txt(g, p.note[0], p.note[1], '(second measurement)', null, 19, '#000');
  txt(g, (p.x0 + p.x1) / 2 - 6, 1584, 'Current density \u00a0/ A g', '\u22121', 34, '#000', 'middle');
  vtitle(g, p.x0 - 106, (p.yt + p.yb) / 2 + 6, 'Capacitance \u00a0/ \u00a0F cm', '\u22123', 34);
  txt(g, p.lx, 1102, p.letter, null, 34, '#000');
}

capPanel({
  letter: 'g)', lx: 6, x0: 141, x1: 639, yt: 1116, yb: 1491,
  series: [
    { data: g_mAC, color: BLACK }, { data: g_20, color: RED }, { data: g_30, color: LIME },
    { data: g_40, color: VIOLET }, { data: g_50, color: BLUE }, { data: g_55, color: ORCHID }
  ],
  legend: [
    { x1: 152, x2: 205, tx: 214, y: 1130, color: BLACK, label: 'mAC', marker: 'circle' },
    { x1: 152, x2: 205, tx: 214, y: 1166, color: RED, label: 'mAC/DCBQ (20%)', marker: 'circle' },
    { x1: 152, x2: 205, tx: 214, y: 1202, color: LIME, label: 'mAC/DCBQ (30%)', marker: 'circle' },
    { x1: 405, x2: 459, tx: 468, y: 1130, color: VIOLET, label: 'mAC/DCBQ (40%)', marker: 'circle' },
    { x1: 405, x2: 459, tx: 468, y: 1166, color: BLUE, label: 'mAC/DCBQ (50%)', marker: 'circle' },
    { x1: 405, x2: 459, tx: 468, y: 1202, color: ORCHID, label: 'mAC/DCBQ (55.1%)', marker: 'circle' }
  ]
});

capPanel({
  letter: 'h)', lx: 674, x0: 807, x1: 1308, yt: 1116, yb: 1491,
  series: [
    { data: h_mmAC, color: BLACK }, { data: h_30, color: LIME }, { data: h_50, color: BLUE },
    { data: h_60, color: ORANGE }, { data: h_71, color: ORCHID }, { data: h_71b, color: ORCHID, marker: 'tri' }
  ],
  legend: [
    { x1: 815, x2: 869, tx: 877, y: 1115, color: BLACK, label: 'mmAC', marker: 'circle' },
    { x1: 815, x2: 869, tx: 877, y: 1151, color: LIME, label: 'mmAC/DCBQ (30%)', marker: 'circle' },
    { x1: 1071, x2: 1125, tx: 1131, y: 1115, color: BLUE, label: 'mmAC/DCBQ (50%)', marker: 'circle' },
    { x1: 1071, x2: 1125, tx: 1131, y: 1151, color: ORANGE, label: 'mmAC/DCBQ (60%)', marker: 'circle' },
    { x1: 1071, x2: 1125, tx: 1131, y: 1186, color: ORCHID, label: 'mmAC/DCBQ (71.2%)', marker: 'circle' },
    { x1: 1071, x2: 1125, tx: 1131, y: 1222, color: ORCHID, label: 'mmAC/DCBQ (71.2%)', marker: 'tri' }
  ],
  note: [1131, 1250]
});

capPanel({
  letter: 'i)', lx: 1342, x0: 1476, x1: 1976, yt: 1116, yb: 1491,
  series: [
    { data: i_ZTC, color: BLACK }, { data: i_10, color: CRIMSON }, { data: i_30, color: LIME },
    { data: i_50, color: BLUE }, { data: i_60, color: ORANGE }, { data: i_72, color: ORCHID },
    { data: i_72b, color: ORCHID, marker: 'tri' }
  ],
  legend: [
    { x1: 1499, x2: 1552, tx: 1560, y: 1106, color: BLACK, label: 'ZTC', marker: 'circle' },
    { x1: 1499, x2: 1552, tx: 1560, y: 1133, color: CRIMSON, label: 'ZTC/DCBQ (10%)', marker: 'circle' },
    { x1: 1499, x2: 1552, tx: 1560, y: 1160, color: LIME, label: 'ZTC/DCBQ (30%)', marker: 'circle' },
    { x1: 1499, x2: 1552, tx: 1560, y: 1188, color: BLUE, label: 'ZTC/DCBQ (50%)', marker: 'circle' },
    { x1: 1740, x2: 1792, tx: 1802, y: 1106, color: ORANGE, label: 'ZTC/DCBQ (60%)', marker: 'circle' },
    { x1: 1740, x2: 1792, tx: 1802, y: 1133, color: ORCHID, label: 'ZTC/DCBQ (72.3%)', marker: 'circle' },
    { x1: 1740, x2: 1792, tx: 1802, y: 1160, color: ORCHID, label: 'ZTC/DCBQ (72.3%)', marker: 'tri' }
  ],
  note: [1802, 1189]
});
</script>
</body>
</html>
